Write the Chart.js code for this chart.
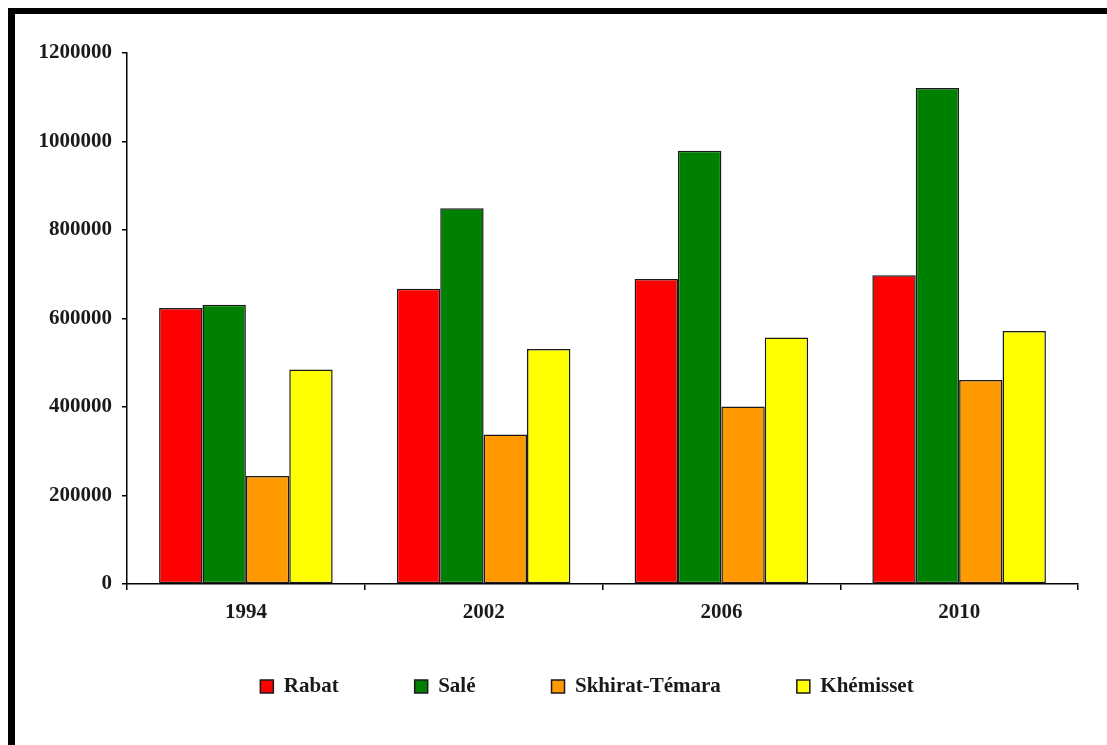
<!DOCTYPE html>
<html>
<head>
<meta charset="utf-8">
<title>Population par province</title>
<script src="https://cdn.jsdelivr.net/npm/chart.js@4.4.1/dist/chart.umd.min.js"></script>
<style>
	body { margin: 0; background: #fff; }
	#frameTop { position: absolute; left: 8px; top: 8px; width: 1099px; height: 6px; background: #000; }
	#frameLeft { position: absolute; left: 8px; top: 8px; width: 7px; height: 737px; background: #000; }
	#chart { position: absolute; left: 0; top: 0; }
</style>
</head>
<body>
<div id="frameTop"></div>
<div id="frameLeft"></div>
<canvas id="chart" width="1107" height="745"></canvas>
<script>
const years = ["1994", "2002", "2006", "2010"]
const rabat = [624000, 667000, 689000, 698000]
const sale = [631000, 849000, 979000, 1121000]
const skhirat = [244000, 338000, 401000, 461000]
const khemisset = [485000, 531000, 557000, 572000]
const yTicks = [0, 200000, 400000, 600000, 800000, 1000000, 1200000]

const font = { family: "'Liberation Serif', 'Times New Roman', serif", size: 21, weight: "bold" }

// the axes are squeezed to place the legend, so let their labels spill out of the box
const noLabelClip = (scale) => { scale._computeLabelArea = () => undefined }

const ctx = document.getElementById("chart").getContext("2d")

new Chart(ctx, {
	type: "bar",
	data: {
		labels: years,
		datasets: [
			{ label: "Rabat", data: rabat, backgroundColor: "#ff0000" },
			{ label: "Salé", data: sale, backgroundColor: "#008000" },
			{ label: "Skhirat-Témara", data: skhirat, backgroundColor: "#ff9900" },
			{ label: "Khémisset", data: khemisset, backgroundColor: "#ffff00" },
		],
	},
	options: {
		responsive: false,
		animation: false,
		datasets: {
			bar: {
				borderColor: "#1a1a1a",
				borderWidth: 1.5,
				borderSkipped: false,
				categoryPercentage: 0.73,
				barPercentage: 1,
			},
		},
		layout: { padding: { left: 96, right: 29, top: 53, bottom: 38 } },
		plugins: {
			tooltip: { enabled: false },
			legend: {
				position: "bottom",
				labels: {
					font: font,
					color: "#1a1a1a",
					boxWidth: 13,
					boxHeight: 13,
					padding: 76,
				},
			},
		},
		scales: {
			x: {
				grid: { drawOnChartArea: false, color: "#000", tickLength: 6, lineWidth: 1.5 },
				border: { color: "#000", width: 1.5 },
				ticks: { font: font, color: "#1a1a1a", padding: 10 },
				afterFit: (scale) => {
					scale.height = 16
					noLabelClip(scale)
				},
			},
			y: {
				min: 0,
				max: 1200000,
				afterBuildTicks: (scale) => { scale.ticks = yTicks.map((v) => ({ value: v })) },
				grid: { drawOnChartArea: false, color: "#000", tickLength: 5, lineWidth: 1.5 },
				border: { color: "#000", width: 1.5 },
				ticks: {
					font: font,
					color: "#1a1a1a",
					padding: 10,
					callback: (value) => String(value),
				},
				afterFit: (scale) => {
					scale.width = 31
					noLabelClip(scale)
				},
			},
		},
	},
})
</script>
</body>
</html>
